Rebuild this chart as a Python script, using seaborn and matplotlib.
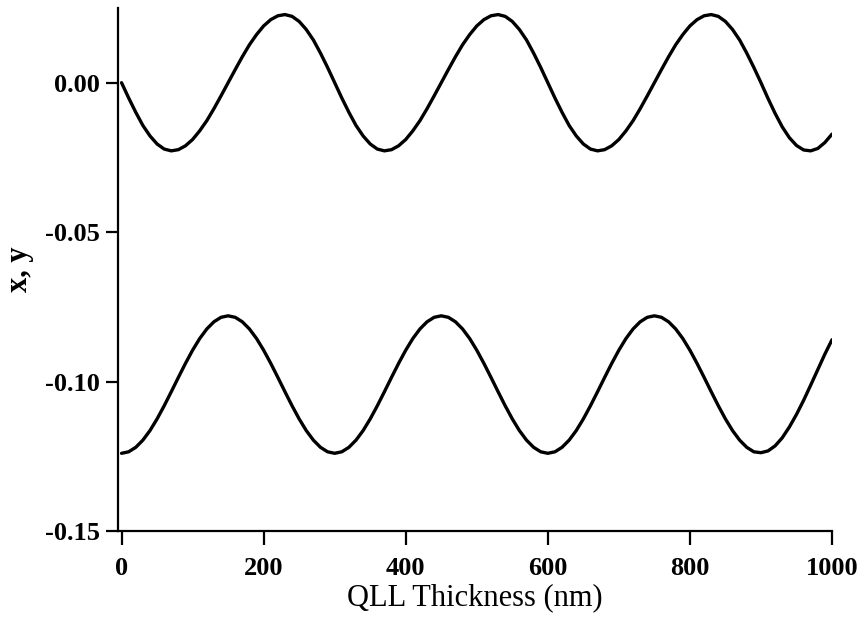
import matplotlib
matplotlib.use("Agg")
import matplotlib.pyplot as plt
import seaborn as sns
import pandas as pd

thickness = [0, 10, 20, 30, 40, 50, 60, 70, 80, 90,
             100, 110, 120, 130, 140, 150, 160, 170, 180, 190,
             200, 210, 220, 230, 240, 250, 260, 270, 280, 290,
             300, 310, 320, 330, 340, 350, 360, 370, 380, 390,
             400, 410, 420, 430, 440, 450, 460, 470, 480, 490,
             500, 510, 520, 530, 540, 550, 560, 570, 580, 590,
             600, 610, 620, 630, 640, 650, 660, 670, 680, 690,
             700, 710, 720, 730, 740, 750, 760, 770, 780, 790,
             800, 810, 820, 830, 840, 850, 860, 870, 880, 890,
             900, 910, 920, 930, 940, 950, 960, 970, 980, 990, 1000]

x_values = [0.0000, -0.0051, -0.0099, -0.0143, -0.0178, -0.0205, -0.0222, -0.0228, -0.0224, -0.0211,
            -0.0190, -0.0161, -0.0127, -0.0087, -0.0044, 0.0000, 0.0044, 0.0087, 0.0127, 0.0161,
            0.0190, 0.0211, 0.0224, 0.0228, 0.0222, 0.0205, 0.0178, 0.0143, 0.0099, 0.0051,
            0.0000, -0.0051, -0.0099, -0.0143, -0.0178, -0.0205, -0.0222, -0.0228, -0.0224, -0.0211,
            -0.0190, -0.0161, -0.0127, -0.0087, -0.0044, 0.0000, 0.0044, 0.0087, 0.0127, 0.0161,
            0.0190, 0.0211, 0.0224, 0.0228, 0.0222, 0.0205, 0.0178, 0.0143, 0.0099, 0.0051,
            0.0000, -0.0051, -0.0099, -0.0143, -0.0178, -0.0205, -0.0222, -0.0228, -0.0224, -0.0211,
            -0.0190, -0.0161, -0.0127, -0.0087, -0.0044, 0.0000, 0.0044, 0.0087, 0.0127, 0.0161,
            0.0190, 0.0211, 0.0224, 0.0228, 0.0222, 0.0205, 0.0178, 0.0143, 0.0099, 0.0051,
            0.0000, -0.0053, -0.0103, -0.0148, -0.0184, -0.0210, -0.0225, -0.0228, -0.0220, -0.0200, -0.0172]

y_values = [-0.1240, -0.1235, -0.1220, -0.1196, -0.1164, -0.1125, -0.1081, -0.1034, -0.0986, -0.0939,
            -0.0895, -0.0856, -0.0824, -0.0800, -0.0785, -0.0780, -0.0785, -0.0800, -0.0824, -0.0856,
            -0.0895, -0.0939, -0.0986, -0.1034, -0.1081, -0.1125, -0.1164, -0.1196, -0.1220, -0.1235,
            -0.1240, -0.1235, -0.1220, -0.1196, -0.1164, -0.1125, -0.1081, -0.1034, -0.0986, -0.0939,
            -0.0895, -0.0856, -0.0824, -0.0800, -0.0785, -0.0780, -0.0785, -0.0800, -0.0824, -0.0856,
            -0.0895, -0.0939, -0.0986, -0.1034, -0.1081, -0.1125, -0.1164, -0.1196, -0.1220, -0.1235,
            -0.1240, -0.1235, -0.1220, -0.1196, -0.1164, -0.1125, -0.1081, -0.1034, -0.0986, -0.0939,
            -0.0895, -0.0856, -0.0824, -0.0800, -0.0785, -0.0780, -0.0785, -0.0800, -0.0824, -0.0856,
            -0.0895, -0.0939, -0.0986, -0.1034, -0.1081, -0.1125, -0.1164, -0.1196, -0.1220, -0.1235,
            -0.1238, -0.1232, -0.1215, -0.1188, -0.1152, -0.1110, -0.1063, -0.1012, -0.0960, -0.0908, -0.0860]

x_ticks = [0, 200, 400, 600, 800, 1000]
y_ticks = [0.00, -0.05, -0.10, -0.15]
y_tick_labels = ["0.00", "-0.05", "-0.10", "-0.15"]

sns.set_style("ticks")
plt.rcParams["font.family"] = ["Liberation Serif", "DejaVu Serif"]
plt.rcParams["text.color"] = "black"
plt.rcParams["axes.labelcolor"] = "black"
plt.rcParams["xtick.color"] = "black"
plt.rcParams["ytick.color"] = "black"

df = pd.DataFrame({"t": thickness + thickness,
                   "v": x_values + y_values,
                   "s": ["x"] * len(thickness) + ["y"] * len(thickness)})

fig = plt.figure(figsize=(8.63, 6.22), dpi=100)
ax = fig.add_axes([118 / 863, 91 / 622, (832 - 118) / 863, (614 - 91) / 622])

sns.lineplot(data=df, x="t", y="v", units="s", estimator=None,
             color="black", linewidth=2.4, ax=ax, legend=False)

ax.set_xlim(-5, 1000)
ax.set_ylim(-0.15, 0.025)
ax.set_xticks(x_ticks)
ax.set_xticklabels([str(t) for t in x_ticks])
ax.set_yticks(y_ticks)
ax.set_yticklabels(y_tick_labels)

for lab in ax.get_xticklabels() + ax.get_yticklabels():
    lab.set_fontweight("bold")
    lab.set_fontsize(19)
    lab.set_color("black")

ax.tick_params(axis="x", direction="out", length=10, width=1.6, pad=9, color="black")
ax.tick_params(axis="y", direction="out", length=9, width=1.6, pad=4, color="black")
for side in ["top", "right"]:
    ax.spines[side].set_visible(False)
for side in ["left", "bottom"]:
    ax.spines[side].set_linewidth(1.6)
    ax.spines[side].set_color("black")

ax.set_xlabel("QLL Thickness (nm)", fontsize=22, labelpad=2, color="black")
ax.set_ylabel("x, y", fontsize=22, fontweight="bold", labelpad=8, color="black")

fig.savefig("out.png", dpi=100)
